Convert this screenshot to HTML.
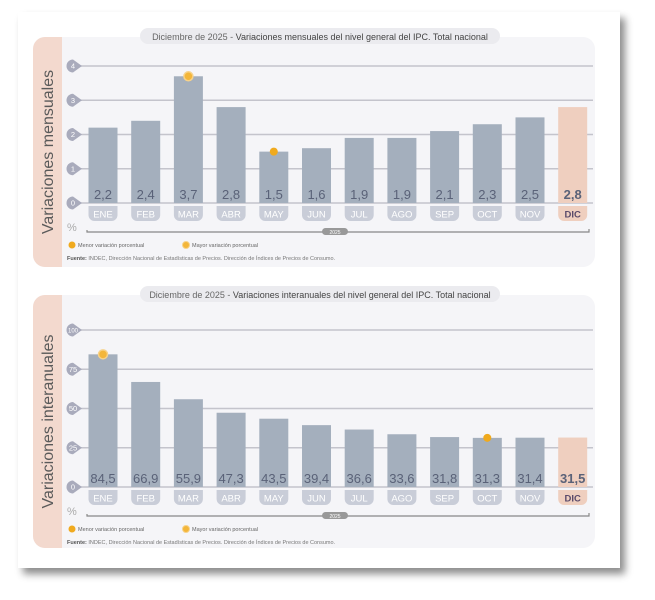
<!DOCTYPE html>
<html><head><meta charset="utf-8">
<style>
body{margin:0;background:#fff;width:655px;height:600px;overflow:hidden;font-family:"Liberation Sans",sans-serif}
svg{display:block}
</style></head>
<body>
<svg id="s" width="655" height="600" viewBox="0 0 655 600">
<defs><filter id="sh" x="-5%" y="-5%" width="112%" height="112%"><feDropShadow dx="5" dy="6" stdDeviation="4" flood-color="#000" flood-opacity="0.45"/></filter></defs>
<rect x="18" y="12" width="602" height="556" fill="#fff" filter="url(#sh)"/>
<g id="c1"></g><g id="c2"></g>
</svg>
<script>
const months=["ENE","FEB","MAR","ABR","MAY","JUN","JUL","AGO","SEP","OCT","NOV","DIC"];
const mensual=[2.2,2.4,3.7,2.8,1.5,1.6,1.9,1.9,2.1,2.3,2.5,2.8];
const interanual=[84.5,66.9,55.9,47.3,43.5,39.4,36.6,33.6,31.8,31.3,31.4,31.5];
const ticks1=[0,1,2,3,4];
const ticks2=[0,25,50,75,100];
const NS="http://www.w3.org/2000/svg";
function mk(p,t,a,txt){const e=document.createElementNS(NS,t);for(const k in a)e.setAttribute(k,a[k]);if(txt!=null)e.textContent=txt;p.appendChild(e);return e;}
function chart(g,cfg){
 const {top,bot,y0,yMax,vmax,vals,ticks,title,ylab,minI,maxI}=cfg;
 const p=mk(g,'rect',{x:33,y:top,width:562,height:bot-top,rx:12,fill:'#f5f5f8'});
 
 const tab=mk(g,'path',{d:`M45 ${top}h17v${bot-top}h-17a12 12 0 0 1 -12 -12v${-(bot-top-24)}a12 12 0 0 1 12 -12z`,fill:'#f3d9ce'});
 
 const yl=mk(g,'text',{x:0,y:0,transform:`translate(53 ${(top+bot)/2}) rotate(-90)`,'text-anchor':'middle','font-size':16,fill:'#5a5a5a'},ylab);
 
 const tp=mk(g,'rect',{x:140,y:top-9,width:360,height:16,rx:8,fill:'#ebebef'});
 
 const tt=mk(g,'text',{x:320,y:top+3,'text-anchor':'middle','font-size':9,fill:'#666'});
 tt.innerHTML='Diciembre de 2025 - <tspan fill="#444">'+title+'</tspan>';
 
 const Y=v=>y0-(v/vmax)*(y0-yMax);
 const X=i=>103+i*42.7;
 ticks.forEach(t=>{
  const l=mk(g,'line',{x1:73,x2:593,y1:Y(t),y2:Y(t),stroke:'#c4c4cc','stroke-width':1.5});
  
  const c=mk(g,'path',{d:`M${73} ${Y(t)-6.5}a6.5 6.5 0 1 0 0 13l9 -6.5z`,fill:'#a9abbc'});
  
  const tx=mk(g,'text',{x:73,y:Y(t)+2.5,'text-anchor':'middle','font-size':t>=100?6:7.5,fill:'#fff'},String(t));
  
 });
 vals.forEach((v,i)=>{
  const dic=i===11;
  const b=mk(g,'rect',{x:X(i)-14.5,y:Y(v),width:29,height:y0-Y(v),fill:dic?'#efcfbf':'#a4afbd'});
  
  const vt=mk(g,'text',{x:X(i),y:y0-4,'text-anchor':'middle','font-size':13,fill:'#5a6278','font-weight':dic?'bold':'normal'},v.toFixed(1).replace('.',','));
  
  const mp=mk(g,'path',{d:`M${X(i)-14.5} ${y0+3}h29v9a6 6 0 0 1 -6 6h-17a6 6 0 0 1 -6 -6z`,fill:dic?'#efcfbf':'#c9cdd8'});
  
  const mt=mk(g,'text',{x:X(i),y:y0+14.5,'text-anchor':'middle','font-size':9.5,fill:dic?'#5a4a6a':'#fff','font-weight':dic?'bold':'normal'},months[i]);
  
 });
 const dm=mk(g,'circle',{cx:X(minI),cy:Y(vals[minI]),r:4,fill:'#f0aa1e'});
 
 const dx=mk(g,'circle',{cx:X(maxI),cy:Y(vals[maxI]),r:4.5,fill:'#f3b63a',stroke:'#f7d28a','stroke-width':1.5});
 
 const yy=y0+29;
 mk(g,'text',{x:67,y:yy-1,'font-size':11,fill:'#aaa'},'%');
 const yl2=mk(g,'path',{d:`M87 ${yy-2}v2h502v-3`,stroke:'#888',fill:'none','stroke-width':1.2});
 
 mk(g,'rect',{x:322,y:yy-4,width:26,height:7,rx:3.5,fill:'#999'});
 mk(g,'text',{x:335,y:yy+2,'text-anchor':'middle','font-size':5,fill:'#fff'},'2025');
 const ly=yy+13;
 const l1=mk(g,'circle',{cx:72,cy:ly,r:3.5,fill:'#f0aa1e'});
 mk(g,'text',{x:78,y:ly+2,'font-size':5.5,fill:'#666'},'Menor variación porcentual');
 const l2=mk(g,'circle',{cx:186,cy:ly,r:3.5,fill:'#f3b63a',stroke:'#f7d28a'});
 mk(g,'text',{x:192,y:ly+2,'font-size':5.5,fill:'#666'},'Mayor variación porcentual');
 const f=mk(g,'text',{x:67,y:ly+15,'font-size':5.5,fill:'#777'});
 f.innerHTML='<tspan font-weight="bold" fill="#555">Fuente:</tspan> INDEC, Dirección Nacional de Estadísticas de Precios. Dirección de Índices de Precios de Consumo.';
 
}
chart(document.getElementById('c1'),{top:37,bot:267,y0:203,yMax:66,vmax:4,vals:mensual,ticks:ticks1,title:'Variaciones mensuales del nivel general del IPC. Total nacional',ylab:'Variaciones mensuales',minI:4,maxI:2});
chart(document.getElementById('c2'),{top:295,bot:548,y0:487,yMax:330,vmax:100,vals:interanual,ticks:ticks2,title:'Variaciones interanuales del nivel general del IPC. Total nacional',ylab:'Variaciones interanuales',minI:9,maxI:0});
</script>
</body></html>
